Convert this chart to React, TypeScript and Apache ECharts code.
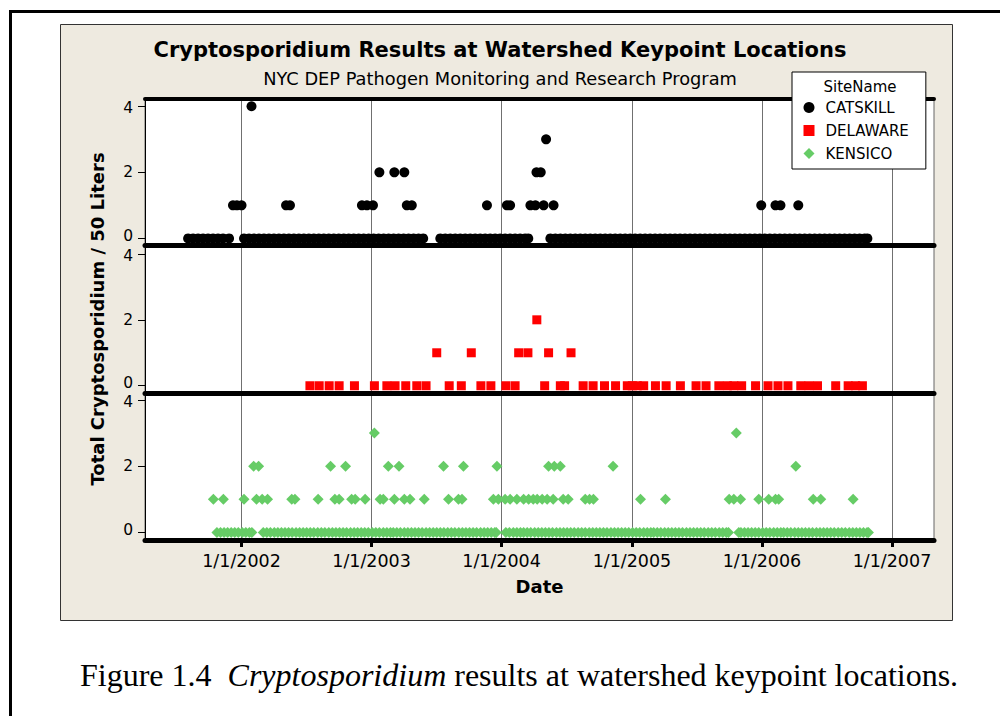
import React, { useEffect, useRef } from "react";
import * as echarts from "echarts";

// ---------- texts ----------
const CHART_TITLE = "Cryptosporidium Results at Watershed Keypoint Locations";
const CHART_SUBTITLE = "NYC DEP Pathogen Monitoring and Research Program";
const Y_AXIS_NAME = "Total Cryptosporidium / 50 Liters";
const X_AXIS_NAME = "Date";
const LEGEND_TITLE = "SiteName";
const SITE_NAMES = ["CATSKILL", "DELAWARE", "KENSICO"];
const CAPTION_PREFIX = "Figure 1.4  ";
const CAPTION_ITALIC = "Cryptosporidium";
const CAPTION_SUFFIX = " results at watershed keypoint locations.";

// ---------- axes ----------
const Y_TICKS = [0, 2, 4];
const YEAR_TICKS = ["2002-01-01", "2003-01-01", "2004-01-01", "2005-01-01", "2006-01-01", "2007-01-01"];
const X_MIN = "2001-04-05";
const X_MAX = "2007-04-29";

// ---------- CATSKILL ----------
const CATSKILL_ZERO = [
  "2001-08-04", "2001-08-18", "2001-09-01", "2001-09-15", "2001-09-29", "2001-10-13", "2001-10-27", "2001-11-10", "2001-11-27",
  "2002-01-08", "2002-01-22", "2002-02-05", "2002-02-19", "2002-03-05", "2002-03-19", "2002-04-02", "2002-04-16", "2002-04-30",
  "2002-05-14", "2002-05-28", "2002-06-11", "2002-06-25", "2002-07-09", "2002-07-23", "2002-08-06", "2002-08-20", "2002-09-03",
  "2002-09-17", "2002-10-01", "2002-10-15", "2002-10-29", "2002-11-12", "2002-11-26", "2002-12-10", "2002-12-24",
  "2003-01-07", "2003-01-21", "2003-02-04", "2003-02-18", "2003-03-04", "2003-03-18", "2003-04-01", "2003-04-15", "2003-04-29",
  "2003-05-13", "2003-05-26",
  "2003-07-13", "2003-07-27", "2003-08-10", "2003-08-24", "2003-09-07", "2003-09-21", "2003-10-05", "2003-10-19", "2003-11-02",
  "2003-11-16", "2003-11-30", "2003-12-14", "2003-12-28", "2004-01-11", "2004-01-25", "2004-02-08", "2004-02-22", "2004-03-07",
  "2004-03-16",
  "2004-05-17", "2004-05-31", "2004-06-14", "2004-06-28", "2004-07-12", "2004-07-26", "2004-08-09", "2004-08-23", "2004-09-06",
  "2004-09-20", "2004-10-04", "2004-10-18", "2004-11-01", "2004-11-15", "2004-11-29", "2004-12-13", "2004-12-27",
  "2005-01-10", "2005-01-24", "2005-02-07", "2005-02-21", "2005-03-07", "2005-03-21", "2005-04-04", "2005-04-18", "2005-05-02",
  "2005-05-16", "2005-05-30", "2005-06-13", "2005-06-27", "2005-07-11", "2005-07-25", "2005-08-08", "2005-08-22", "2005-09-05",
  "2005-09-19", "2005-10-03", "2005-10-17", "2005-10-31", "2005-11-14", "2005-11-28", "2005-12-12", "2005-12-26",
  "2006-01-09", "2006-01-23", "2006-02-06", "2006-02-20", "2006-03-06", "2006-03-20", "2006-04-03", "2006-04-17", "2006-05-01",
  "2006-05-15", "2006-05-29", "2006-06-12", "2006-06-26", "2006-07-10", "2006-07-24", "2006-08-07", "2006-08-21", "2006-09-04",
  "2006-09-18", "2006-10-02", "2006-10-16", "2006-10-24",
];
const CATSKILL_ONE = [
  "2001-12-08", "2001-12-19", "2002-01-01", "2002-05-06", "2002-05-17", "2002-12-05", "2002-12-19", "2003-01-05",
  "2003-04-10", "2003-04-24", "2003-11-21", "2004-01-16", "2004-01-25", "2004-03-22", "2004-04-05", "2004-04-28",
  "2004-05-26", "2005-12-30", "2006-02-08", "2006-02-22", "2006-04-13",
];
const CATSKILL_TWO = ["2003-01-23", "2003-03-06", "2003-04-03", "2004-04-08", "2004-04-20"];
const CATSKILL_THREE = ["2004-05-05"];
const CATSKILL_FOUR = ["2002-01-29"];

// ---------- DELAWARE ----------
const DELAWARE_ZERO = [
  "2002-07-12", "2002-08-07", "2002-09-04", "2002-10-02", "2002-11-14", "2003-01-09", "2003-02-13", "2003-03-08",
  "2003-04-07", "2003-05-08", "2003-06-03", "2003-08-07", "2003-09-10", "2003-11-04", "2003-12-02", "2004-01-13",
  "2004-02-08", "2004-05-01", "2004-06-14", "2004-06-26", "2004-08-17", "2004-09-14", "2004-10-16", "2004-11-16",
  "2004-12-19", "2005-01-02", "2005-01-16", "2005-02-03", "2005-03-08", "2005-04-07", "2005-05-17", "2005-06-30",
  "2005-07-28", "2005-09-02", "2005-09-26", "2005-10-14", "2005-11-05", "2005-12-14", "2006-01-18", "2006-02-15",
  "2006-03-15", "2006-04-20", "2006-05-13", "2006-06-06", "2006-07-27", "2006-08-31", "2006-09-21", "2006-10-10",
];
const DELAWARE_ONE = ["2003-07-03", "2003-10-08", "2004-02-18", "2004-03-15", "2004-05-12", "2004-07-14"];
const DELAWARE_TWO = ["2004-04-09"];

// ---------- KENSICO ----------
const KENSICO_ZERO = [
  "2001-10-24", "2001-11-03", "2001-11-13", "2001-11-23", "2001-12-03", "2001-12-13", "2001-12-23",
  "2002-01-03", "2002-01-13", "2002-01-23", "2002-01-30",
  "2002-03-03", "2002-03-13", "2002-03-23", "2002-04-03", "2002-04-13", "2002-04-23", "2002-05-03", "2002-05-13", "2002-05-23",
  "2002-06-03", "2002-06-13", "2002-06-23", "2002-07-03", "2002-07-13", "2002-07-23", "2002-08-03", "2002-08-13", "2002-08-23",
  "2002-09-03", "2002-09-13", "2002-09-23", "2002-10-03", "2002-10-13", "2002-10-23", "2002-11-03", "2002-11-13", "2002-11-23",
  "2002-12-03", "2002-12-13", "2002-12-23",
  "2003-01-03", "2003-01-13", "2003-01-23", "2003-02-03", "2003-02-13", "2003-02-23", "2003-03-03", "2003-03-13", "2003-03-23",
  "2003-04-03", "2003-04-13", "2003-04-23", "2003-05-03", "2003-05-13", "2003-05-23", "2003-06-03", "2003-06-13", "2003-06-23",
  "2003-07-03", "2003-07-13", "2003-07-23", "2003-08-03", "2003-08-13", "2003-08-23", "2003-09-03", "2003-09-13", "2003-09-23",
  "2003-10-03", "2003-10-13", "2003-10-23", "2003-11-03", "2003-11-13", "2003-11-23", "2003-12-03", "2003-12-13", "2003-12-17",
  "2004-01-13", "2004-01-23", "2004-02-03", "2004-02-13", "2004-02-23", "2004-03-03", "2004-03-13", "2004-03-23",
  "2004-04-03", "2004-04-13", "2004-04-23", "2004-05-03", "2004-05-13", "2004-05-23", "2004-06-03", "2004-06-13", "2004-06-23",
  "2004-07-03", "2004-07-13", "2004-07-23", "2004-08-03", "2004-08-13", "2004-08-23", "2004-09-03", "2004-09-13", "2004-09-23",
  "2004-10-03", "2004-10-13", "2004-10-23", "2004-11-03", "2004-11-13", "2004-11-23", "2004-12-03", "2004-12-13", "2004-12-23",
  "2005-01-03", "2005-01-13", "2005-01-23", "2005-02-03", "2005-02-13", "2005-02-23", "2005-03-03", "2005-03-13", "2005-03-23",
  "2005-04-03", "2005-04-13", "2005-04-23", "2005-05-03", "2005-05-13", "2005-05-23", "2005-06-03", "2005-06-13", "2005-06-23",
  "2005-07-03", "2005-07-13", "2005-07-23", "2005-08-03", "2005-08-13", "2005-08-23", "2005-09-03", "2005-09-13", "2005-09-23",
  "2005-09-29",
  "2005-10-28", "2005-11-03", "2005-11-13", "2005-11-23", "2005-12-03", "2005-12-13", "2005-12-23",
  "2006-01-03", "2006-01-13", "2006-01-23", "2006-02-03", "2006-02-13", "2006-02-23", "2006-03-03", "2006-03-13", "2006-03-23",
  "2006-04-03", "2006-04-13", "2006-04-23", "2006-05-03", "2006-05-13", "2006-05-23", "2006-06-03", "2006-06-13", "2006-06-23",
  "2006-07-03", "2006-07-13", "2006-07-23", "2006-08-03", "2006-08-13", "2006-08-23", "2006-09-03", "2006-09-13", "2006-09-23",
  "2006-10-03", "2006-10-13", "2006-10-23", "2006-10-27",
];
const KENSICO_ONE = [
  "2001-10-14", "2001-11-11", "2002-01-08", "2002-02-12", "2002-02-28", "2002-03-15", "2002-05-22", "2002-05-31",
  "2002-08-04", "2002-09-20", "2002-10-02", "2002-11-06", "2002-11-16", "2002-12-14", "2003-01-25", "2003-02-03",
  "2003-03-06", "2003-04-03", "2003-04-19", "2003-05-29", "2003-08-05", "2003-09-02", "2003-09-12", "2003-12-09",
  "2003-12-23", "2004-01-11", "2004-01-25", "2004-02-13", "2004-03-03", "2004-03-17", "2004-03-30", "2004-04-10",
  "2004-04-24", "2004-05-08", "2004-05-25", "2004-06-22", "2004-07-06", "2004-08-23", "2004-09-04", "2004-09-15",
  "2005-01-25", "2005-04-05", "2005-10-01", "2005-10-14", "2005-11-02", "2005-12-23", "2006-01-20", "2006-02-08",
  "2006-02-17", "2006-05-25", "2006-06-15", "2006-09-14",
];
const KENSICO_TWO = [
  "2002-02-04", "2002-02-18", "2002-09-08", "2002-10-20", "2003-02-17", "2003-03-19", "2003-07-22", "2003-09-16",
  "2003-12-19", "2004-05-12", "2004-05-28", "2004-06-14", "2004-11-09", "2006-04-06",
];
const KENSICO_THREE = ["2003-01-09", "2005-10-21"];

// ---------- style ----------
const SANS = "DejaVu Sans";
const SERIF = "Liberation Serif";
const COLOR_CATSKILL = "#000000";
const COLOR_DELAWARE = "#FF0000";
const COLOR_KENSICO = "#66CC66";

const ts = (d: string) => echarts.time.parse(d).getTime();

const toPoints = (groups: [string[], number][]) =>
  groups.flatMap(([dates, v]) => dates.map((d) => [ts(d), v]));

export default function App() {
  const ref = useRef<HTMLDivElement>(null);

  useEffect(() => {
    if (!ref.current) return;
    const chart = echarts.init(ref.current, null, { renderer: "svg" });

    const xMin = ts(X_MIN);
    const xMax = ts(X_MAX);
    const yearTicks = YEAR_TICKS.map(ts);

    const grids = [
      { left: 145, top: 99, width: 789, height: 146 },
      { left: 145, top: 245, width: 789, height: 148 },
      { left: 145, top: 393, width: 789, height: 147 },
    ].map((g) => ({ ...g, show: true, backgroundColor: "#ffffff", borderColor: "#666666", borderWidth: 1 }));

    const yRanges = [
      [-0.2, 4.22],
      [-0.22, 4.27],
      [-0.23, 4.21],
    ];

    const baseX = (gridIndex: number, bottomAxis: boolean) => ({
      type: "value",
      gridIndex,
      min: xMin,
      max: xMax,
      position: "bottom",
      axisLine: { show: true, onZero: false, lineStyle: { color: "#000", width: 5 } },
      axisTick: bottomAxis
        ? { show: true, customValues: yearTicks, length: 7, lineStyle: { color: "#000", width: 3 } }
        : { show: false, customValues: yearTicks },
      axisLabel: bottomAxis
        ? {
            show: true,
            customValues: yearTicks,
            margin: 12,
            fontFamily: SANS,
            fontSize: 17.5,
            color: "#000",
            formatter: (v: number) => `1/1/${new Date(v).getFullYear()}`,
          }
        : { show: false, customValues: yearTicks },
      splitLine: { show: true, lineStyle: { color: "#707070", width: 1 } },
      ...(bottomAxis
        ? {
            name: X_AXIS_NAME,
            nameLocation: "middle",
            nameGap: 37,
            nameTextStyle: { fontFamily: SANS, fontSize: 18, fontWeight: "bold", color: "#000" },
          }
        : {}),
    });

    const xAxes: any[] = [
      baseX(0, false),
      baseX(1, false),
      baseX(2, true),
      {
        type: "value",
        gridIndex: 0,
        min: xMin,
        max: xMax,
        position: "top",
        axisLine: { show: true, onZero: false, lineStyle: { color: "#000", width: 4 } },
        axisTick: { show: false },
        axisLabel: { show: false },
        splitLine: { show: false },
      },
    ];

    const yAxes: any[] = yRanges.map((r, i) => ({
      type: "value",
      gridIndex: i,
      min: r[0],
      max: r[1],
      axisLine: { show: true, onZero: false, lineStyle: { color: "#000", width: 1 } },
      axisTick: { show: true, customValues: Y_TICKS, length: 7, lineStyle: { color: "#000", width: 1 } },
      axisLabel: {
        show: true,
        customValues: Y_TICKS,
        margin: 12,
        color: "#000",
        fontFamily: SANS,
        fontSize: 15.5,
        formatter: (v: number) => (v === 0 ? `{lo|${v}}` : v === 4 ? `{hi|${v}}` : `{mid|${v}}`),
        rich: {
          lo: { fontFamily: SANS, fontSize: 15.5, color: "#000", lineHeight: 14, padding: [0, 0, 5, 0] },
          hi: { fontFamily: SANS, fontSize: 15.5, color: "#000", lineHeight: 14, padding: [4, 0, 0, 0] },
          mid: { fontFamily: SANS, fontSize: 15.5, color: "#000", lineHeight: 14 },
        },
      },
      splitLine: { show: false },
      ...(i === 1
        ? {
            name: Y_AXIS_NAME,
            nameLocation: "middle",
            nameGap: 39,
            nameRotate: 90,
            nameTextStyle: { fontFamily: SANS, fontSize: 18, fontWeight: "bold", color: "#000" },
          }
        : {}),
    }));

    const series: any[] = [
      {
        name: SITE_NAMES[0],
        type: "scatter",
        xAxisIndex: 0,
        yAxisIndex: 0,
        symbol: "circle",
        symbolSize: 10,
        itemStyle: { color: COLOR_CATSKILL, opacity: 1 },
        data: toPoints([
          [CATSKILL_ZERO, 0],
          [CATSKILL_ONE, 1],
          [CATSKILL_TWO, 2],
          [CATSKILL_THREE, 3],
          [CATSKILL_FOUR, 4],
        ]),
      },
      {
        name: SITE_NAMES[1],
        type: "scatter",
        xAxisIndex: 1,
        yAxisIndex: 1,
        symbol: "rect",
        symbolSize: 9,
        itemStyle: { color: COLOR_DELAWARE, opacity: 1 },
        data: toPoints([
          [DELAWARE_ZERO, 0],
          [DELAWARE_ONE, 1],
          [DELAWARE_TWO, 2],
        ]),
      },
      {
        name: SITE_NAMES[2],
        type: "scatter",
        xAxisIndex: 2,
        yAxisIndex: 2,
        symbol: "diamond",
        symbolSize: 11,
        itemStyle: { color: COLOR_KENSICO, opacity: 1 },
        data: toPoints([
          [KENSICO_ZERO, 0],
          [KENSICO_ONE, 1],
          [KENSICO_TWO, 2],
          [KENSICO_THREE, 3],
        ]),
      },
    ];

    chart.setOption({
      animation: false,
      backgroundColor: "#ffffff",
      title: [
        {
          text: CHART_TITLE,
          left: "center",
          top: 37,
          padding: 0,
          textStyle: { fontFamily: SANS, fontSize: 21, fontWeight: "bold", color: "#000", lineHeight: 26 },
        },
        {
          text: CHART_SUBTITLE,
          left: "center",
          top: 68,
          padding: 0,
          textStyle: { fontFamily: SANS, fontSize: 17.8, fontWeight: "normal", color: "#000", lineHeight: 20 },
        },
      ],
      legend: {
        orient: "vertical",
        left: 792,
        top: 72,
        padding: [28, 17, 8, 11.5],
        itemWidth: 11,
        itemHeight: 11,
        itemGap: 8,
        backgroundColor: "#ffffff",
        borderColor: "#000",
        borderWidth: 1,
        borderRadius: 0,
        data: SITE_NAMES,
        textStyle: { fontFamily: SANS, fontSize: 15, color: "#000", lineHeight: 14, padding: [0, 0, 0, 6] },
      },
      grid: grids,
      xAxis: xAxes,
      yAxis: yAxes,
      series,
      graphic: {
        elements: [
          {
            type: "rect",
            z: -10,
            shape: { x: 60.5, y: 24.5, width: 892, height: 596 },
            style: { fill: "#EEEAE0", stroke: "#333333", lineWidth: 1 },
            silent: true,
          },
          {
            type: "line",
            z: 10,
            shape: { x1: 10.5, y1: 10, x2: 10.5, y2: 716 },
            style: { stroke: "#000", lineWidth: 3 },
            silent: true,
          },
          {
            type: "line",
            z: 10,
            shape: { x1: 9, y1: 11.5, x2: 1000, y2: 11.5 },
            style: { stroke: "#000", lineWidth: 3 },
            silent: true,
          },
          {
            type: "text",
            z: 100,
            x: 860,
            y: 87,
            style: {
              text: LEGEND_TITLE,
              fontFamily: SANS,
              fontSize: 15,
              fill: "#000",
              align: "center",
              verticalAlign: "middle",
            },
            silent: true,
          },
          {
            type: "text",
            z: 10,
            x: 80,
            y: 675,
            style: {
              text: `{a|${CAPTION_PREFIX}}{b|${CAPTION_ITALIC}}{a|${CAPTION_SUFFIX}}`,
              rich: {
                a: { fontFamily: SERIF, fontSize: 32, fill: "#000" },
                b: { fontFamily: SERIF, fontSize: 32, fontStyle: "italic", fill: "#000" },
              },
              align: "left",
              verticalAlign: "middle",
            },
            silent: true,
          },
        ],
      },
    });

    return () => chart.dispose();
  }, []);

  return (
    <div
      ref={ref}
      style={{ position: "absolute", left: 0, top: 0, width: 1000, height: 716, background: "#fff" }}
    />
  );
}
